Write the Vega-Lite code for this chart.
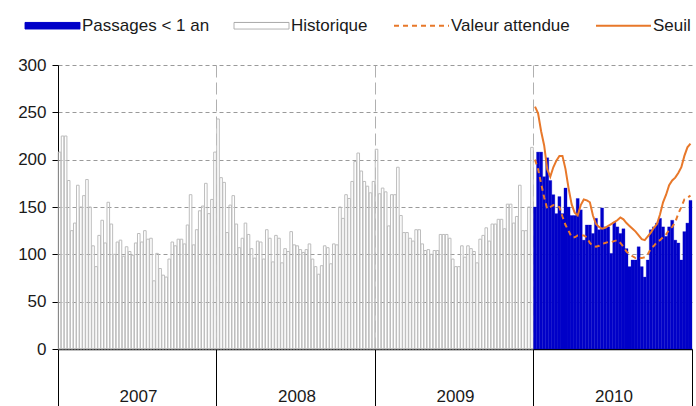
{
  "$schema": "https://vega.github.io/schema/vega-lite/v6.json",
  "width": 634,
  "height": 284,
  "autosize": "none",
  "padding": {"left": 58, "top": 65, "right": 4, "bottom": 57},
  "background": "white",
  "config": {
    "view": {"stroke": null},
    "font": "Liberation Sans",
    "axisY": {
      "domainColor": "#000000",
      "tickColor": "#000000",
      "tickSize": 6,
      "labelPadding": 6,
      "labelFontSize": 17,
      "labelColor": "#1a1a1a",
      "grid": true,
      "gridColor": "#9a9a9a",
      "gridDash": [4, 3],
      "values": [0, 50, 100, 150, 200, 250, 300]
    }
  },
  "datasets": {
    "hist": [
      {"semaine": 0, "historique": 208}, {"semaine": 1, "historique": 225}, {"semaine": 2, "historique": 225}, {"semaine": 3, "historique": 178},
      {"semaine": 4, "historique": 125}, {"semaine": 5, "historique": 133}, {"semaine": 6, "historique": 173}, {"semaine": 7, "historique": 150},
      {"semaine": 8, "historique": 162}, {"semaine": 9, "historique": 179}, {"semaine": 10, "historique": 150}, {"semaine": 11, "historique": 109},
      {"semaine": 12, "historique": 87}, {"semaine": 13, "historique": 120}, {"semaine": 14, "historique": 136}, {"semaine": 15, "historique": 112},
      {"semaine": 16, "historique": 155}, {"semaine": 17, "historique": 132}, {"semaine": 18, "historique": 100}, {"semaine": 19, "historique": 113},
      {"semaine": 20, "historique": 115}, {"semaine": 21, "historique": 98}, {"semaine": 22, "historique": 108}, {"semaine": 23, "historique": 103},
      {"semaine": 24, "historique": 99}, {"semaine": 25, "historique": 112}, {"semaine": 26, "historique": 122}, {"semaine": 27, "historique": 113},
      {"semaine": 28, "historique": 125}, {"semaine": 29, "historique": 116}, {"semaine": 30, "historique": 117}, {"semaine": 31, "historique": 72},
      {"semaine": 32, "historique": 101}, {"semaine": 33, "historique": 85}, {"semaine": 34, "historique": 78}, {"semaine": 35, "historique": 76},
      {"semaine": 36, "historique": 95}, {"semaine": 37, "historique": 113}, {"semaine": 38, "historique": 109}, {"semaine": 39, "historique": 116},
      {"semaine": 40, "historique": 116}, {"semaine": 41, "historique": 111}, {"semaine": 42, "historique": 131}, {"semaine": 43, "historique": 163},
      {"semaine": 44, "historique": 110}, {"semaine": 45, "historique": 126}, {"semaine": 46, "historique": 146}, {"semaine": 47, "historique": 151},
      {"semaine": 48, "historique": 175}, {"semaine": 49, "historique": 143}, {"semaine": 50, "historique": 158}, {"semaine": 51, "historique": 208},
      {"semaine": 52, "historique": 243}, {"semaine": 53, "historique": 181}, {"semaine": 54, "historique": 176}, {"semaine": 55, "historique": 123},
      {"semaine": 56, "historique": 152}, {"semaine": 57, "historique": 162}, {"semaine": 58, "historique": 132}, {"semaine": 59, "historique": 107},
      {"semaine": 60, "historique": 117}, {"semaine": 61, "historique": 133}, {"semaine": 62, "historique": 121}, {"semaine": 63, "historique": 106},
      {"semaine": 64, "historique": 96}, {"semaine": 65, "historique": 114}, {"semaine": 66, "historique": 113}, {"semaine": 67, "historique": 95},
      {"semaine": 68, "historique": 126}, {"semaine": 69, "historique": 117}, {"semaine": 70, "historique": 92}, {"semaine": 71, "historique": 120},
      {"semaine": 72, "historique": 117}, {"semaine": 73, "historique": 91}, {"semaine": 74, "historique": 106}, {"semaine": 75, "historique": 103},
      {"semaine": 76, "historique": 124}, {"semaine": 77, "historique": 110}, {"semaine": 78, "historique": 109}, {"semaine": 79, "historique": 105},
      {"semaine": 80, "historique": 102}, {"semaine": 81, "historique": 105}, {"semaine": 82, "historique": 111}, {"semaine": 83, "historique": 95},
      {"semaine": 84, "historique": 87}, {"semaine": 85, "historique": 79}, {"semaine": 86, "historique": 88}, {"semaine": 87, "historique": 109},
      {"semaine": 88, "historique": 107}, {"semaine": 89, "historique": 90}, {"semaine": 90, "historique": 111}, {"semaine": 91, "historique": 110},
      {"semaine": 92, "historique": 150}, {"semaine": 93, "historique": 138}, {"semaine": 94, "historique": 163}, {"semaine": 95, "historique": 159},
      {"semaine": 96, "historique": 177}, {"semaine": 97, "historique": 198}, {"semaine": 98, "historique": 207}, {"semaine": 99, "historique": 188},
      {"semaine": 100, "historique": 177}, {"semaine": 101, "historique": 172}, {"semaine": 102, "historique": 165}, {"semaine": 103, "historique": 177},
      {"semaine": 104, "historique": 211}, {"semaine": 105, "historique": 164}, {"semaine": 106, "historique": 170}, {"semaine": 107, "historique": 166},
      {"semaine": 108, "historique": 130}, {"semaine": 109, "historique": 163}, {"semaine": 110, "historique": 163}, {"semaine": 111, "historique": 192},
      {"semaine": 112, "historique": 141}, {"semaine": 113, "historique": 123}, {"semaine": 114, "historique": 123}, {"semaine": 115, "historique": 117},
      {"semaine": 116, "historique": 114}, {"semaine": 117, "historique": 126}, {"semaine": 118, "historique": 126}, {"semaine": 119, "historique": 111},
      {"semaine": 120, "historique": 104}, {"semaine": 121, "historique": 105}, {"semaine": 122, "historique": 100}, {"semaine": 123, "historique": 104},
      {"semaine": 124, "historique": 104}, {"semaine": 125, "historique": 121}, {"semaine": 126, "historique": 121}, {"semaine": 127, "historique": 121},
      {"semaine": 128, "historique": 117}, {"semaine": 129, "historique": 95}, {"semaine": 130, "historique": 87}, {"semaine": 131, "historique": 87},
      {"semaine": 132, "historique": 109}, {"semaine": 133, "historique": 97}, {"semaine": 134, "historique": 109}, {"semaine": 135, "historique": 106},
      {"semaine": 136, "historique": 103}, {"semaine": 137, "historique": 91}, {"semaine": 138, "historique": 116}, {"semaine": 139, "historique": 120},
      {"semaine": 140, "historique": 128}, {"semaine": 141, "historique": 114}, {"semaine": 142, "historique": 132}, {"semaine": 143, "historique": 132},
      {"semaine": 144, "historique": 137}, {"semaine": 145, "historique": 137}, {"semaine": 146, "historique": 127}, {"semaine": 147, "historique": 153},
      {"semaine": 148, "historique": 153}, {"semaine": 149, "historique": 133}, {"semaine": 150, "historique": 140}, {"semaine": 151, "historique": 173},
      {"semaine": 152, "historique": 125}, {"semaine": 153, "historique": 125}, {"semaine": 154, "historique": 150}, {"semaine": 155, "historique": 213}
    ],
    "an2010": [
      {"semaine": 156, "passages": 150, "attendue": 200, "seuil": 256}, {"semaine": 157, "passages": 208, "attendue": 190, "seuil": 249},
      {"semaine": 158, "passages": 208, "attendue": 175, "seuil": 230}, {"semaine": 159, "passages": 182, "attendue": 160, "seuil": 215},
      {"semaine": 160, "passages": 202, "attendue": 148, "seuil": 190}, {"semaine": 161, "passages": 178, "attendue": 150, "seuil": 182},
      {"semaine": 162, "passages": 163, "attendue": 152, "seuil": 192}, {"semaine": 163, "passages": 143, "attendue": 151, "seuil": 199},
      {"semaine": 164, "passages": 161, "attendue": 150, "seuil": 204}, {"semaine": 165, "passages": 143, "attendue": 140, "seuil": 204},
      {"semaine": 166, "passages": 170, "attendue": 131, "seuil": 190}, {"semaine": 167, "passages": 150, "attendue": 125, "seuil": 170},
      {"semaine": 168, "passages": 141, "attendue": 118, "seuil": 153}, {"semaine": 169, "passages": 141, "attendue": 118, "seuil": 144},
      {"semaine": 170, "passages": 159, "attendue": 120, "seuil": 141}, {"semaine": 171, "passages": 147, "attendue": 120, "seuil": 152},
      {"semaine": 172, "passages": 115, "attendue": 120, "seuil": 158}, {"semaine": 173, "passages": 131, "attendue": 118, "seuil": 157},
      {"semaine": 174, "passages": 131, "attendue": 112, "seuil": 155}, {"semaine": 175, "passages": 122, "attendue": 109, "seuil": 141},
      {"semaine": 176, "passages": 138, "attendue": 108, "seuil": 132}, {"semaine": 177, "passages": 126, "attendue": 109, "seuil": 129},
      {"semaine": 178, "passages": 149, "attendue": 111, "seuil": 127}, {"semaine": 179, "passages": 129, "attendue": 112, "seuil": 128},
      {"semaine": 180, "passages": 129, "attendue": 113, "seuil": 130}, {"semaine": 181, "passages": 101, "attendue": 113, "seuil": 132},
      {"semaine": 182, "passages": 134, "attendue": 114, "seuil": 134}, {"semaine": 183, "passages": 129, "attendue": 115, "seuil": 136},
      {"semaine": 184, "passages": 122, "attendue": 112, "seuil": 139}, {"semaine": 185, "passages": 127, "attendue": 108, "seuil": 137},
      {"semaine": 186, "passages": 106, "attendue": 103, "seuil": 133}, {"semaine": 187, "passages": 87, "attendue": 100, "seuil": 130},
      {"semaine": 188, "passages": 94, "attendue": 98, "seuil": 127}, {"semaine": 189, "passages": 94, "attendue": 96, "seuil": 124},
      {"semaine": 190, "passages": 108, "attendue": 96, "seuil": 120}, {"semaine": 191, "passages": 87, "attendue": 96, "seuil": 116},
      {"semaine": 192, "passages": 76, "attendue": 97, "seuil": 115}, {"semaine": 193, "passages": 94, "attendue": 100, "seuil": 119},
      {"semaine": 194, "passages": 126, "attendue": 106, "seuil": 123}, {"semaine": 195, "passages": 129, "attendue": 109, "seuil": 128},
      {"semaine": 196, "passages": 133, "attendue": 113, "seuil": 132}, {"semaine": 197, "passages": 138, "attendue": 115, "seuil": 142},
      {"semaine": 198, "passages": 129, "attendue": 118, "seuil": 155}, {"semaine": 199, "passages": 119, "attendue": 121, "seuil": 163},
      {"semaine": 200, "passages": 129, "attendue": 126, "seuil": 173}, {"semaine": 201, "passages": 136, "attendue": 129, "seuil": 178},
      {"semaine": 202, "passages": 115, "attendue": 134, "seuil": 181}, {"semaine": 203, "passages": 112, "attendue": 143, "seuil": 186},
      {"semaine": 204, "passages": 94, "attendue": 150, "seuil": 192}, {"semaine": 205, "passages": 124, "attendue": 158, "seuil": 204},
      {"semaine": 206, "passages": 133, "attendue": 160, "seuil": 213}, {"semaine": 207, "passages": 157, "attendue": 162, "seuil": 217}
    ]
  },
  "layer": [
    {
      "data": {"name": "hist"},
      "mark": {"type": "bar", "fill": "transparent", "stroke": "#bdbdbd", "strokeWidth": 1, "width": {"band": 0.85}},
      "encoding": {
        "x": {
          "field": "semaine", "type": "ordinal", "sort": "ascending",
          "scale": {"paddingInner": 0, "paddingOuter": 0},
          "axis": {
            "orient": "bottom", "title": null,
            "values": [0, 52, 104, 156], "bandPosition": 0,
            "tickSize": 57, "tickColor": "#000000", "tickWidth": 1,
            "domainColor": "#000000", "domainWidth": 1.5,
            "labelExpr": "2007 + datum.value / 52",
            "labelAngle": 0, "labelAlign": "center", "labelBaseline": "top",
            "labelOffset": 79, "labelPadding": -18, "labelFontSize": 17, "labelColor": "#1a1a1a",
            "labelOverlap": false, "labelBound": false,
            "grid": true, "gridDash": [12, 5], "gridColor": "#b0b0b0"
          }
        },
        "y": {"field": "historique", "type": "quantitative", "scale": {"domain": [0, 300], "nice": false}, "axis": {"title": null}}
      }
    },
    {
      "data": {"name": "an2010"},
      "mark": {"type": "bar", "width": {"band": 1}, "stroke": "#0000C8", "strokeWidth": 0.3},
      "encoding": {
        "x": {
          "field": "semaine", "type": "ordinal", "sort": "ascending",
          "axis": {
            "orient": "bottom", "title": null, "values": [207], "bandPosition": 1,
            "tickSize": 57, "tickColor": "#000000", "labels": false, "domain": false, "grid": false
          }
        },
        "y": {"field": "passages", "type": "quantitative", "axis": {"title": null}},
        "color": {
          "datum": "Passages < 1 an", "type": "nominal",
          "scale": {"domain": ["Passages < 1 an", "Historique", "Valeur attendue", "Seuil"], "range": ["#0000C8", "#a8a8a8", "#E8782A", "#E8782A"]},
          "legend": {
            "orient": "none", "legendX": -35, "legendY": -48, "direction": "horizontal", "title": null,
            "labelFontSize": 17, "labelColor": "#1a1a1a", "labelOffset": 21, "symbolOffset": 21, "columnPadding": 22,
            "symbolSize": 3025,
            "encoding": {
              "symbols": {
                "shape": {"value": {"expr": "datum.value == 'Seuil' || datum.value == 'Valeur attendue' ? 'stroke' : 'M-1,-0.12H1V0.12H-1Z'"}},
                "fillOpacity": {"value": {"expr": "datum.value == 'Historique' ? 0 : 1"}},
                "strokeOpacity": {"value": 1},
                "strokeDash": {"value": {"expr": "datum.value == 'Valeur attendue' ? [5, 4] : [1, 0]"}},
                "strokeWidth": {"value": {"expr": "datum.value == 'Seuil' || datum.value == 'Valeur attendue' ? 2 : 1"}},
                "opacity": {"value": 1}
              }
            }
          }
        }
      }
    },
    {
      "data": {"name": "an2010"},
      "mark": {"type": "line", "strokeDash": [5, 4], "strokeWidth": 2},
      "encoding": {
        "x": {"field": "semaine", "type": "ordinal", "sort": "ascending", "axis": null},
        "y": {"field": "attendue", "type": "quantitative", "axis": {"title": null}},
        "color": {"datum": "Valeur attendue", "type": "nominal", "legend": null}
      }
    },
    {
      "data": {"name": "an2010"},
      "mark": {"type": "line", "strokeWidth": 2},
      "encoding": {
        "x": {"field": "semaine", "type": "ordinal", "sort": "ascending", "axis": null},
        "y": {"field": "seuil", "type": "quantitative", "axis": {"title": null}},
        "color": {"datum": "Seuil", "type": "nominal", "legend": null}
      }
    }
  ],
  "resolve": {"axis": {"x": "independent"}}
}
